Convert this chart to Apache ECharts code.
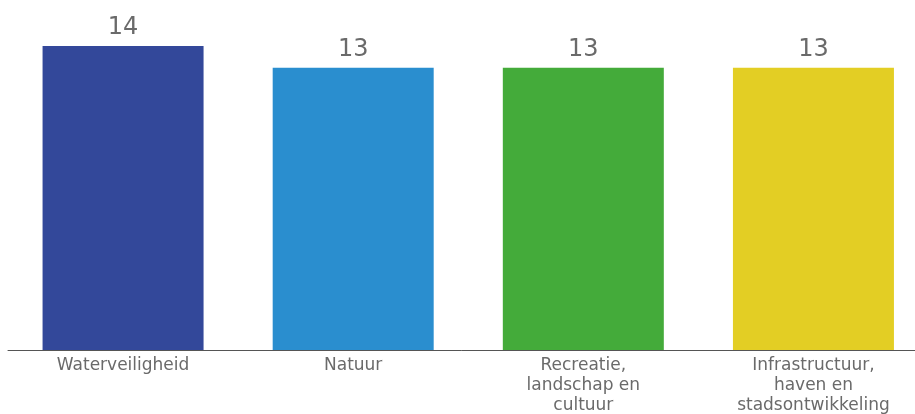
<!DOCTYPE html>
<html><head><meta charset="utf-8">
<script src="https://cdn.jsdelivr.net/npm/echarts@6/dist/echarts.min.js"></script>
<style>html,body{margin:0;padding:0;background:#fff}#c{width:915px;height:414px}</style>
</head><body><div id="c"></div>
<script>
const categories = ["Waterveiligheid", "Natuur", "Recreatie,\nlandschap en\ncultuur", "Infrastructuur,\nhaven en\nstadsontwikkeling"];
const values = [14, 13, 13, 13];
const colors = ["#33489a", "#2a8ecf", "#44ab3a", "#e3ce24"];

const chart = echarts.init(document.getElementById('c'), null, {renderer: 'canvas'});
chart.setOption({
  animation: false,
  grid: {left: 8, top: 46, right: -13.5, bottom: 64, containLabel: false, outerBoundsMode: 'none'},
  xAxis: {
    type: 'category', data: categories,
    axisLine: {show: true, lineStyle: {color: '#555', width: 1}},
    axisTick: {show: false},
    axisLabel: {color: '#6a6a6a', fontSize: 17, fontFamily: 'DejaVu Sans', lineHeight: 20, margin: 6, interval: 0}
  },
  yAxis: {type: 'value', min: 0, max: 14, show: false, splitLine: {show: false}},
  series: [{
    type: 'bar', barWidth: 161,
    data: values.map((v, i) => ({value: v, itemStyle: {color: colors[i]}})),
    label: {show: true, position: 'top', distance: 6, color: '#6a6a6a', fontSize: 24, fontFamily: 'DejaVu Sans'}
  }]
});
</script></body></html>
